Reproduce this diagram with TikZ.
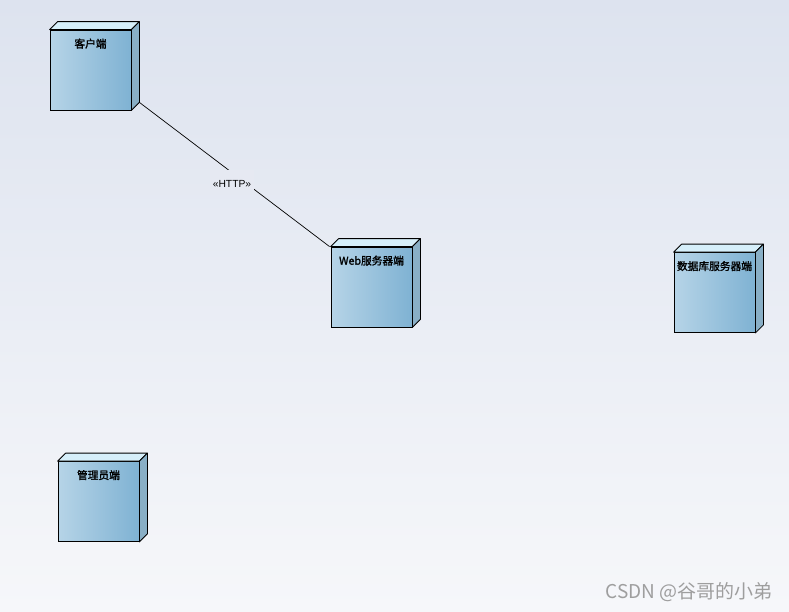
\documentclass[tikz,border=0pt]{standalone}
\usepackage{fontspec}
\setmainfont{Liberation Sans}
\newfontfamily\cjk{Noto Sans CJK SC}
\newfontfamily\cjkb{Noto Sans CJK SC}[FakeBold=1.6]
\definecolor{bgtop}{HTML}{DDE3EF}
\definecolor{bgbot}{HTML}{F6F7FA}
\definecolor{bgmid}{HTML}{E6E9F2}
\definecolor{faceL}{HTML}{B6D4E7}
\definecolor{faceR}{HTML}{7FB2D3}
\definecolor{topface}{HTML}{D6EFFA}
\definecolor{sideface}{HTML}{89AFC6}
\tikzset{
  front/.style={draw=black, line width=0.8pt, minimum width=81pt, minimum height=80pt,
    inner sep=0pt, left color=faceL, right color=faceR},
  facebox/.style={draw=black, line width=0.8pt, line join=round},
  lbl/.style={font=\cjkb\fontsize{10.7pt}{12pt}\selectfont, inner sep=0pt},
  conn/.style={draw=black, line width=0.7pt},
  stereobg/.style={fill=bgmid, inner sep=0pt, minimum width=44pt, minimum height=20pt},
  stereo/.style={font=\fontsize{10.3pt}{11pt}\selectfont, inner sep=0pt},
}
\newcommand\umlnode[4]{%
  \node[front] (#1) at (#2,#3) {};
  \draw[facebox, fill=topface] (#1.north west) -- ([shift={(8pt,8pt)}]#1.north west)
     -- ([shift={(8pt,8pt)}]#1.north east) -- (#1.north east) -- cycle;
  \draw[facebox, fill=sideface] (#1.north east) -- ([shift={(8pt,8pt)}]#1.north east)
     -- ([shift={(8pt,8pt)}]#1.south east) -- (#1.south east) -- cycle;
  \node[lbl] (#1-t) at ([yshift=-14pt]#1.north) {#4};
}
\begin{document}
\begin{tikzpicture}[x=1pt, y=-1pt]
\useasboundingbox (0,0) rectangle (789,611);
\shade[top color=bgtop, bottom color=bgbot] (0,0) rectangle (789,611);

\umlnode{client}{90.5}{70}{客户端}
\umlnode{web}{371.5}{287}{Web服务器端}
\umlnode{db}{714.5}{292.5}{数据库服务器端}
\umlnode{admin}{98.5}{501.5}{管理员端}

\coordinate (ce) at ([shift={(8pt,8pt)}]client.south east);
\draw[conn] (ce) -- ([xshift=-1pt]web.north west);
\node[stereobg] (httpbg) at (232,180) {};
\node[stereo] (http) at (232,184) {«HTTP»};

\node[font=\cjk\fontsize{19pt}{21pt}\selectfont, text=black!38, inner sep=0pt] (wm) at (689,592) {CSDN @谷哥的小弟};
\end{tikzpicture}
\end{document}
